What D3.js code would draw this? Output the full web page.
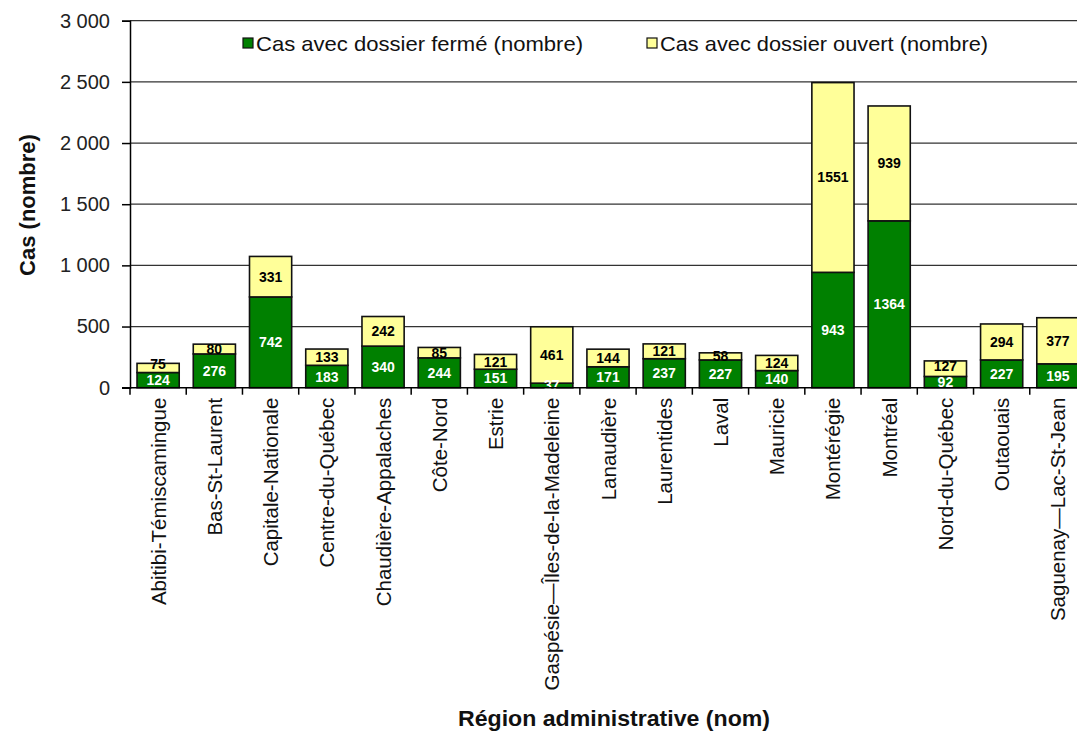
<!DOCTYPE html>
<html>
<head>
<meta charset="utf-8">
<script src="https://cdn.jsdelivr.net/npm/d3@7"></script>
<style>
  html, body { margin: 0; padding: 0; background: #fff; }
  svg { display: block; font-family: "Liberation Sans", Arial, sans-serif; }
</style>
</head>
<body>
<svg id="chart" width="1077" height="731"></svg>
<script>
// Régions administratives
const regions = [
  "Abitibi-Témiscamingue", "Bas-St-Laurent", "Capitale-Nationale", "Centre-du-Québec",
  "Chaudière-Appalaches", "Côte-Nord", "Estrie", "Gaspésie—Îles-de-la-Madeleine",
  "Lanaudière", "Laurentides", "Laval", "Mauricie", "Montérégie", "Montréal",
  "Nord-du-Québec", "Outaouais", "Saguenay—Lac-St-Jean"
];
// Cas avec dossier fermé (nombre)
const casFermes = [124, 276, 742, 183, 340, 244, 151, 37, 171, 237, 227, 140, 943, 1364, 92, 227, 195];
// Cas avec dossier ouvert (nombre)
const casOuverts = [75, 80, 331, 133, 242, 85, 121, 461, 144, 121, 58, 124, 1551, 939, 127, 294, 377];
const yTicks = [0, 500, 1000, 1500, 2000, 2500, 3000];
const seriesNames = ["Cas avec dossier fermé (nombre)", "Cas avec dossier ouvert (nombre)"];
const seriesColors = ["#008000", "#ffff99"];
const labelColors = ["#ffffff", "#000000"];

const svg = d3.select("#chart");
const plotLeft = 130, plotRight = 1086, plotTop = 20.7, plotBottom = 387.7;
const valueFont = 14;

const x = d3.scaleBand().domain(regions).range([plotLeft, plotRight])
  .paddingInner(0.25).paddingOuter(0.125);
const y = d3.scaleLinear().domain([0, 3000]).range([plotBottom, plotTop]);

const fmt = v => d3.format(",")(v).replace(/,/g, " ");

// Horizontal gridlines
svg.append("g").selectAll("line").data(yTicks.filter(t => t > 0)).join("line")
  .attr("x1", plotLeft).attr("x2", 1077)
  .attr("y1", d => y(d)).attr("y2", d => y(d))
  .attr("stroke", "#333").attr("stroke-width", 1.3);

// Y axis
const yAxis = svg.append("g").attr("transform", `translate(${plotLeft},0)`)
  .call(d3.axisLeft(y).tickValues(yTicks).tickSize(8).tickPadding(12).tickFormat(fmt));
yAxis.select(".domain").attr("stroke", "#000").attr("stroke-width", 1.5);
yAxis.selectAll(".tick line").attr("stroke", "#000").attr("stroke-width", 1.5);
yAxis.selectAll(".tick text").attr("font-size", 20).attr("fill", "#222")
  .attr("font-family", "Liberation Sans, Arial, sans-serif");

// Stacked data
const rows = regions.map((r, i) => ({ region: r, ferme: casFermes[i], ouvert: casOuverts[i] }));
const stack = d3.stack().keys(["ferme", "ouvert"])(rows);

const layers = svg.append("g").selectAll("g").data(stack).join("g")
  .attr("fill", (d, i) => seriesColors[i]);
layers.selectAll("rect").data(d => d).join("rect")
  .attr("x", d => x(d.data.region))
  .attr("width", x.bandwidth())
  .attr("y", d => y(d[1]))
  .attr("height", d => y(d[0]) - y(d[1]))
  .attr("stroke", "#111").attr("stroke-width", 1.6);

// Value labels centred in each segment; an upper label that would collide
// with the one below it is lifted clear.
const mid = d => (y(d[0]) + y(d[1])) / 2;
const lowerMid = stack[0].map(mid);
stack.forEach((layer, i) => {
  svg.append("g").selectAll("text").data(layer).join("text")
    .attr("x", d => x(d.data.region) + x.bandwidth() / 2)
    .attr("y", (d, j) => i === 0 ? mid(d) : Math.min(mid(d), lowerMid[j] - valueFont - 2))
    .attr("text-anchor", "middle").attr("dominant-baseline", "central")
    .attr("font-size", valueFont).attr("font-weight", "bold")
    .attr("fill", labelColors[i])
    .text(d => d[1] - d[0]);
});

// X axis
const xAxis = svg.append("g").attr("transform", `translate(0,${plotBottom})`);
xAxis.append("line").attr("x1", plotLeft - 8).attr("x2", 1077)
  .attr("stroke", "#000").attr("stroke-width", 1.5);
const boundaries = regions.map(r => x(r) - x.step() * x.paddingInner() / 2);
xAxis.selectAll("line.tk").data(boundaries).join("line").attr("class", "tk")
  .attr("x1", d => d).attr("x2", d => d).attr("y1", 0).attr("y2", 7)
  .attr("stroke", "#000").attr("stroke-width", 1.5);
xAxis.selectAll("text").data(regions).join("text")
  .attr("transform", d => `translate(${x(d) + x.bandwidth() / 2},10) rotate(-90)`)
  .attr("text-anchor", "end").attr("dominant-baseline", "central")
  .attr("font-size", 20.5).attr("fill", "#111")
  .text(d => d);

// Axis titles
svg.append("text").attr("transform", "translate(27,205) rotate(-90)")
  .attr("text-anchor", "middle").attr("dominant-baseline", "central")
  .attr("font-size", 22).attr("font-weight", "bold").attr("fill", "#111")
  .text("Cas (nombre)");
svg.append("text").attr("x", 614).attr("y", 718)
  .attr("text-anchor", "middle").attr("dominant-baseline", "central")
  .attr("font-size", 22).attr("font-weight", "bold").attr("fill", "#111")
  .attr("textLength", 312).attr("lengthAdjust", "spacingAndGlyphs")
  .text("Région administrative (nom)");

// Legend
const legendX = [243, 647];
const legend = svg.append("g").selectAll("g").data(seriesNames).join("g")
  .attr("transform", (d, i) => `translate(${legendX[i]},38)`);
legend.append("rect").attr("width", 10).attr("height", 10)
  .attr("fill", (d, i) => seriesColors[i]).attr("stroke", "#111").attr("stroke-width", 1.2);
legend.append("text").attr("x", 13).attr("y", 5).attr("dominant-baseline", "central")
  .attr("font-size", 21).attr("fill", "#111")
  .attr("textLength", (d, i) => i === 0 ? 327 : 328).attr("lengthAdjust", "spacingAndGlyphs")
  .text(d => d);
</script>
</body>
</html>
